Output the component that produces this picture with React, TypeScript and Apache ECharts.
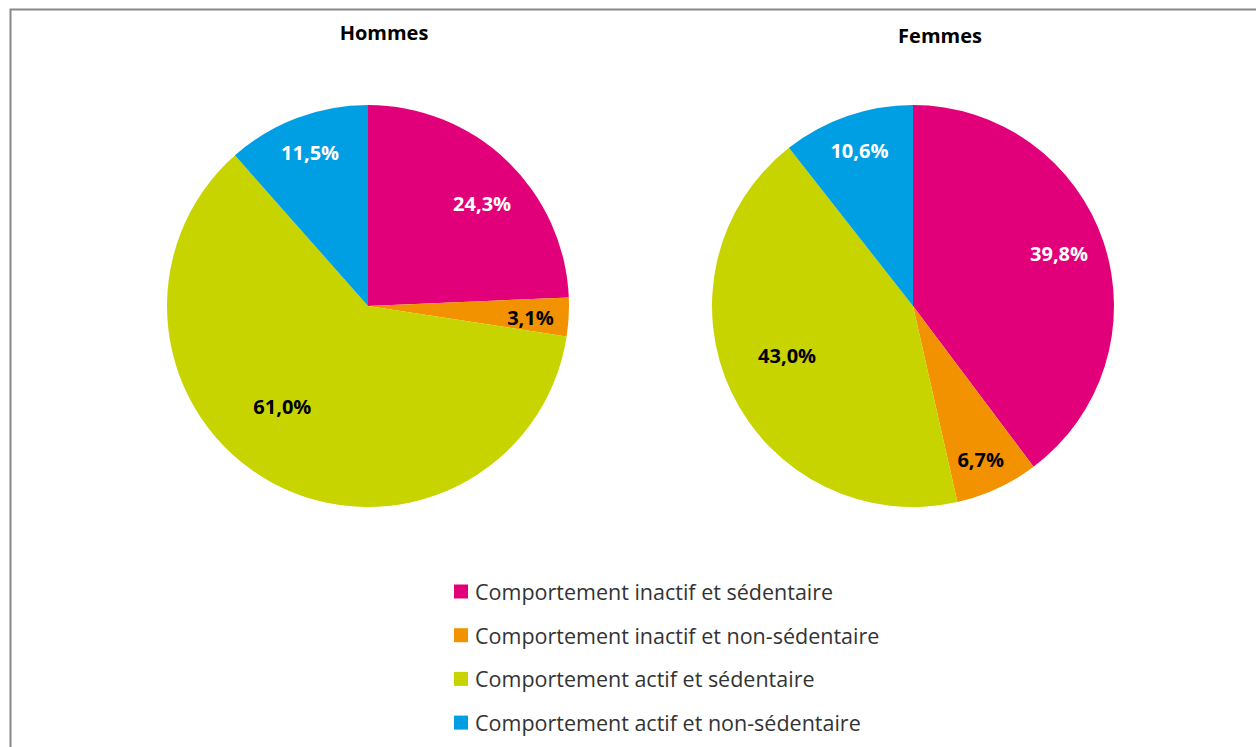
import React, { useEffect, useRef } from "react";
import * as echarts from "echarts";

const categories = [
  "Comportement inactif et sédentaire",
  "Comportement inactif et non-sédentaire",
  "Comportement actif et sédentaire",
  "Comportement actif et non-sédentaire",
];
const hommesValues = [24.3, 3.1, 61.0, 11.5];
const femmesValues = [39.8, 6.7, 43.0, 10.6];
const titles = ["Hommes", "Femmes"];

const colors = ["#E2007A", "#F39200", "#C8D400", "#009FE3"];
const labelColors = ["#FFFFFF", "#000000", "#000000", "#FFFFFF"];
// label placement (fraction of radius, angle shift in degrees) — "best fit" style
const labelRadiusFrac = [
  [0.764, 0.81, 0.657, 0.814],
  [0.773, 0.834, 0.673, 0.816],
];
const labelAngleShift = [
  [4.2, 0.8, 11.8, 0],
  [-1.5, 1, 4, 0],
];

const CENTERS = [
  [368, 306],
  [913, 306],
];
const RADIUS = 201;
const FONT = "'Open Sans', Lato, sans-serif";

function labelPos(values: number[], idx: number, frac: number, shiftDeg: number, c: number[]) {
  const total = values.reduce((a, b) => a + b, 0);
  let cum = 0;
  for (let i = 0; i < idx; i++) cum += values[i];
  const mid = ((cum + values[idx] / 2) / total) * Math.PI * 2 + (shiftDeg * Math.PI) / 180;
  const r = RADIUS * frac;
  return { x: c[0] + Math.sin(mid) * r, y: c[1] - Math.cos(mid) * r };
}

export default function App() {
  const ref = useRef<HTMLDivElement>(null);
  useEffect(() => {
    if (!ref.current) return;
    const chart = echarts.init(ref.current, null, { renderer: "svg" });
    const allValues = [hommesValues, femmesValues];
    const series = allValues.map((vals, si) => ({
      type: "pie",
      name: titles[si],
      center: CENTERS[si],
      radius: RADIUS,
      startAngle: 90,
      clockwise: true,
      avoidLabelOverlap: false,
      emphasis: { disabled: true },
      label: {
        show: true,
        position: "inside",
        fontFamily: FONT,
        fontWeight: "bold",
        fontSize: 20,
        formatter: (p: any) => p.value.toFixed(1).replace(".", ",") + "%",
      },
      labelLine: { show: false },
      labelLayout: (p: any) => {
        const pos = labelPos(
          vals,
          p.dataIndex,
          labelRadiusFrac[si][p.dataIndex],
          labelAngleShift[si][p.dataIndex],
          CENTERS[si]
        );
        return { x: pos.x, y: pos.y, align: "center", verticalAlign: "middle" };
      },
      data: categories.map((name, i) => ({
        name,
        value: vals[i],
        itemStyle: { color: colors[i] },
        label: { color: labelColors[i] },
      })),
    }));
    chart.setOption({
      animation: false,
      backgroundColor: "#FFFFFF",
      title: [
        {
          text: titles[0],
          left: 379,
          top: 17,
          textAlign: "center",
          textStyle: { fontFamily: FONT, fontWeight: "bold", fontSize: 20, color: "#000" },
        },
        {
          text: titles[1],
          left: 935,
          top: 20,
          textAlign: "center",
          textStyle: { fontFamily: FONT, fontWeight: "bold", fontSize: 20, color: "#000" },
        },
      ],
      legend: {
        orient: "vertical",
        left: 449,
        top: 575.5,
        itemWidth: 14,
        itemHeight: 14,
        itemGap: 21.7,
        icon: "rect",
        data: categories,
        selectedMode: false,
        textStyle: { fontFamily: FONT, fontSize: 21.5, color: "#333333", padding: [0, 0, 0, 2] },
      },
      graphic: [
        {
          type: "rect",
          left: 8,
          top: 7,
          shape: { width: 1400, height: 900 },
          style: { fill: "none", stroke: "#888888", lineWidth: 2 },
          silent: true,
        },
      ],
      series,
    });
    return () => chart.dispose();
  }, []);
  return (
    <div
      ref={ref}
      style={{ position: "absolute", left: 0, top: 0, width: 1256, height: 747 }}
    />
  );
}
